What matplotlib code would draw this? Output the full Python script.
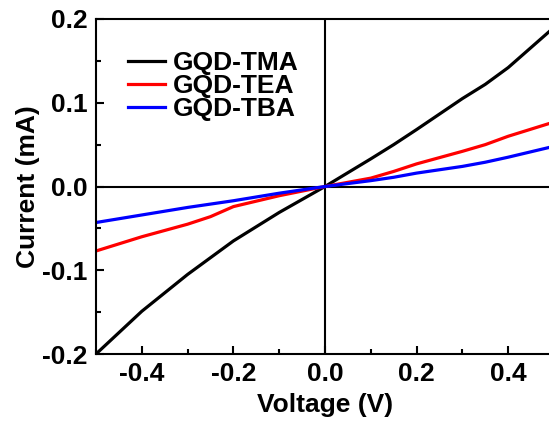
import numpy as np
import matplotlib
matplotlib.use("Agg")
import matplotlib.pyplot as plt
from matplotlib import rcParams
from matplotlib.ticker import MultipleLocator

rcParams.update({
    "font.family": ["Liberation Sans", "DejaVu Sans"],
    "font.weight": "bold",
    "axes.labelweight": "bold",
    "font.size": 19,
})

voltage = [-0.5, -0.4, -0.3, -0.25, -0.2, -0.1, 0.0, 0.1, 0.15, 0.2, 0.3, 0.35, 0.4, 0.5]
i_tma = [-0.200, -0.149, -0.105, -0.085, -0.065, -0.031, 0.0, 0.033, 0.050, 0.068, 0.105, 0.122, 0.142, 0.190]
i_tea = [-0.077, -0.060, -0.045, -0.036, -0.024, -0.011, 0.0, 0.010, 0.018, 0.027, 0.042, 0.050, 0.060, 0.077]
i_tba = [-0.043, -0.034, -0.025, -0.021, -0.017, -0.008, 0.0, 0.007, 0.011, 0.016, 0.024, 0.029, 0.035, 0.048]
labels = ["GQD-TMA", "GQD-TEA", "GQD-TBA"]
colors = ["black", "#ff0000", "#0000ff"]

fig = plt.figure(figsize=(5.49, 4.29), dpi=100)
ax = fig.add_axes([96 / 549, 1 - 354 / 429, 458 / 549, 335 / 429])

for ys, lab, c in zip([i_tma, i_tea, i_tba], labels, colors):
    ax.plot(voltage, ys, color=c, lw=2.3, label=lab)

ax.axhline(0, color="black", lw=1.5, zorder=0)
ax.axvline(0, color="black", lw=1.5, zorder=0)

ax.set_xlim(-0.5, 0.5)
ax.set_ylim(-0.2, 0.2)
ax.xaxis.set_minor_locator(MultipleLocator(0.1))
ax.yaxis.set_minor_locator(MultipleLocator(0.05))
ax.set_xticks([-0.4, -0.2, 0.0, 0.2, 0.4])
ax.set_xticklabels(["-0.4", "-0.2", "0.0", "0.2", "0.4"])
ax.set_yticks([-0.2, -0.1, 0.0, 0.1, 0.2])
ax.set_yticklabels(["-0.2", "-0.1", "0.0", "0.1", "0.2"])
ax.tick_params(which="both", direction="in", width=1.5, top=False, right=False)
ax.tick_params(which="major", length=6, pad=6)
ax.tick_params(which="minor", length=3.5)
for s in ax.spines.values():
    s.set_linewidth(1.5)

ax.set_xlabel("Voltage (V)", labelpad=5)
ax.set_ylabel("Current (mA)", labelpad=2)

ax.legend(loc="upper left", bbox_to_anchor=(0.07, 0.905), frameon=False,
          borderpad=0, handlelength=1.4, handletextpad=0.3, labelspacing=-0.03,
          borderaxespad=0)

plt.savefig("out.png", dpi=100)
